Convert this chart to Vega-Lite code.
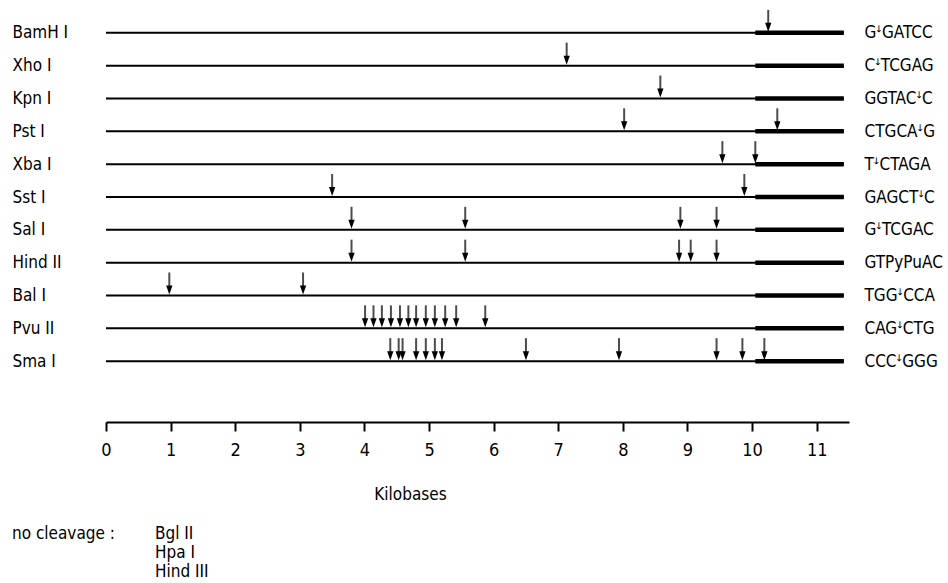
{
  "$schema": "https://vega.github.io/schema/vega-lite/v6.json",
  "width": 743,
  "height": 394,
  "autosize": {"type": "none"},
  "padding": {"left": 106, "top": 0, "right": 99, "bottom": 189},
  "background": "white",
  "config": {
    "view": {"stroke": null},
    "font": "DejaVu Sans Condensed, DejaVu Sans, sans-serif",
    "axis": {"labelColor": "black", "titleColor": "black", "domainColor": "black", "tickColor": "black", "grid": false}
  },
  "datasets": {
    "enzymes": [
      {"enzyme": "BamH I", "site": "GꜜGATCC", "start": 0, "end": 11.42, "heavy": 10.05},
      {"enzyme": "Xho I", "site": "CꜜTCGAG", "start": 0, "end": 11.42, "heavy": 10.05},
      {"enzyme": "Kpn I", "site": "GGTACꜜC", "start": 0, "end": 11.42, "heavy": 10.05},
      {"enzyme": "Pst I", "site": "CTGCAꜜG", "start": 0, "end": 11.42, "heavy": 10.05},
      {"enzyme": "Xba I", "site": "TꜜCTAGA", "start": 0, "end": 11.42, "heavy": 10.05},
      {"enzyme": "Sst I", "site": "GAGCTꜜC", "start": 0, "end": 11.42, "heavy": 10.05},
      {"enzyme": "Sal I", "site": "GꜜTCGAC", "start": 0, "end": 11.42, "heavy": 10.05},
      {"enzyme": "Hind II", "site": "GTPyPuAC", "start": 0, "end": 11.42, "heavy": 10.05},
      {"enzyme": "Bal I", "site": "TGGꜜCCA", "start": 0, "end": 11.42, "heavy": 10.05},
      {"enzyme": "Pvu II", "site": "CAGꜜCTG", "start": 0, "end": 11.42, "heavy": 10.05},
      {"enzyme": "Sma I", "site": "CCCꜜGGG", "start": 0, "end": 11.42, "heavy": 10.05}
    ],
    "cuts": [
      {"enzyme": "BamH I", "kb": 10.25},
      {"enzyme": "Xho I", "kb": 7.13},
      {"enzyme": "Kpn I", "kb": 8.58},
      {"enzyme": "Pst I", "kb": 8.02},
      {"enzyme": "Pst I", "kb": 10.39},
      {"enzyme": "Xba I", "kb": 9.54},
      {"enzyme": "Xba I", "kb": 10.05},
      {"enzyme": "Sst I", "kb": 3.5},
      {"enzyme": "Sst I", "kb": 9.88},
      {"enzyme": "Sal I", "kb": 3.8},
      {"enzyme": "Sal I", "kb": 5.56},
      {"enzyme": "Sal I", "kb": 8.89},
      {"enzyme": "Sal I", "kb": 9.45},
      {"enzyme": "Hind II", "kb": 3.8},
      {"enzyme": "Hind II", "kb": 5.56},
      {"enzyme": "Hind II", "kb": 8.87},
      {"enzyme": "Hind II", "kb": 9.05},
      {"enzyme": "Hind II", "kb": 9.45},
      {"enzyme": "Bal I", "kb": 0.98},
      {"enzyme": "Bal I", "kb": 3.05},
      {"enzyme": "Pvu II", "kb": 4.01},
      {"enzyme": "Pvu II", "kb": 4.14},
      {"enzyme": "Pvu II", "kb": 4.27},
      {"enzyme": "Pvu II", "kb": 4.41},
      {"enzyme": "Pvu II", "kb": 4.55},
      {"enzyme": "Pvu II", "kb": 4.68},
      {"enzyme": "Pvu II", "kb": 4.8},
      {"enzyme": "Pvu II", "kb": 4.95},
      {"enzyme": "Pvu II", "kb": 5.09},
      {"enzyme": "Pvu II", "kb": 5.25},
      {"enzyme": "Pvu II", "kb": 5.42},
      {"enzyme": "Pvu II", "kb": 5.87},
      {"enzyme": "Sma I", "kb": 4.4},
      {"enzyme": "Sma I", "kb": 4.53},
      {"enzyme": "Sma I", "kb": 4.59},
      {"enzyme": "Sma I", "kb": 4.8},
      {"enzyme": "Sma I", "kb": 4.95},
      {"enzyme": "Sma I", "kb": 5.09},
      {"enzyme": "Sma I", "kb": 5.2},
      {"enzyme": "Sma I", "kb": 6.5},
      {"enzyme": "Sma I", "kb": 7.94},
      {"enzyme": "Sma I", "kb": 9.45},
      {"enzyme": "Sma I", "kb": 9.85},
      {"enzyme": "Sma I", "kb": 10.19}
    ],
    "nocut": [
      {"text": "no cleavage :", "col": "head", "line": 1},
      {"text": "Bgl II", "col": "list", "line": 1},
      {"text": "Hpa I", "col": "list", "line": 2},
      {"text": "Hind III", "col": "list", "line": 3}
    ]
  },
  "layer": [
    {
      "data": {"name": "enzymes"},
      "mark": {"type": "rule", "strokeWidth": 2, "color": "black"},
      "encoding": {
        "x": {
          "field": "start", "type": "quantitative",
          "scale": {"domain": [0, 11.5], "nice": false, "zero": false},
          "axis": {
            "values": [0, 1, 2, 3, 4, 5, 6, 7, 8, 9, 10, 11],
            "title": "Kilobases", "offset": 28, "tickSize": 9, "tickWidth": 2, "domainWidth": 2,
            "labelFontSize": 18, "labelPadding": 10, "labelFlush": false,
            "titleFontSize": 17, "titleFontWeight": "normal", "titleX": 304, "titleY": 72, "titleBaseline": "middle"
          }
        },
        "x2": {"field": "end"},
        "y": {
          "field": "enzyme", "type": "nominal", "sort": null,
          "scale": {"type": "point", "padding": 1, "domain": ["BamH I", "Xho I", "Kpn I", "Pst I", "Xba I", "Sst I", "Sal I", "Hind II", "Bal I", "Pvu II", "Sma I"]},
          "axis": {"title": null, "orient": "left", "domain": false, "ticks": false, "labelAlign": "left", "labelPadding": 94, "labelFontSize": 17, "labelBaseline": "middle"}
        }
      }
    },
    {
      "data": {"name": "enzymes"},
      "mark": {"type": "rule", "strokeWidth": 4.5, "color": "black"},
      "encoding": {
        "x": {"field": "heavy", "type": "quantitative", "scale": {"domain": [0, 11.5], "nice": false, "zero": false}, "axis": null},
        "x2": {"field": "end"},
        "y": {
          "field": "site", "type": "nominal", "sort": null,
          "scale": {"type": "point", "padding": 1, "domain": ["GꜜGATCC", "CꜜTCGAG", "GGTACꜜC", "CTGCAꜜG", "TꜜCTAGA", "GAGCTꜜC", "GꜜTCGAC", "GTPyPuAC", "TGGꜜCCA", "CAGꜜCTG", "CCCꜜGGG"]},
          "axis": {"title": null, "orient": "right", "domain": false, "ticks": false, "labelAlign": "left", "labelPadding": 15, "labelFontSize": 17, "labelBaseline": "middle"}
        }
      }
    },
    {
      "data": {"name": "cuts"},
      "mark": {"type": "tick", "orient": "vertical", "size": 18, "thickness": 2, "color": "black", "yOffset": -14},
      "encoding": {
        "x": {"field": "kb", "type": "quantitative", "scale": {"domain": [0, 11.5], "nice": false, "zero": false}, "axis": null},
        "y": {
          "field": "enzyme", "type": "nominal", "sort": null,
          "scale": {"type": "point", "padding": 1, "domain": ["BamH I", "Xho I", "Kpn I", "Pst I", "Xba I", "Sst I", "Sal I", "Hind II", "Bal I", "Pvu II", "Sma I"]},
          "axis": null
        }
      }
    },
    {
      "data": {"name": "cuts"},
      "mark": {"type": "point", "shape": "M-0.35,-1L0.35,-1L0,0Z", "size": 324, "filled": true, "color": "black", "opacity": 1, "yOffset": -1},
      "encoding": {
        "x": {"field": "kb", "type": "quantitative", "scale": {"domain": [0, 11.5], "nice": false, "zero": false}, "axis": null},
        "y": {
          "field": "enzyme", "type": "nominal", "sort": null,
          "scale": {"type": "point", "padding": 1, "domain": ["BamH I", "Xho I", "Kpn I", "Pst I", "Xba I", "Sst I", "Sal I", "Hind II", "Bal I", "Pvu II", "Sma I"]},
          "axis": null
        }
      }
    },
    {
      "data": {"name": "nocut"},
      "mark": {"type": "text", "align": "left", "baseline": "middle", "fontSize": 17, "color": "black"},
      "encoding": {
        "x": {"field": "col", "type": "nominal", "scale": {"type": "point", "padding": 0, "domain": ["head", "list"], "range": [-94, 49]}, "axis": null},
        "y": {"field": "line", "type": "ordinal", "scale": {"type": "point", "padding": 0, "domain": [1, 2, 3], "range": [534, 572]}, "axis": null},
        "text": {"field": "text"}
      }
    }
  ],
  "resolve": {"scale": {"x": "independent", "y": "independent"}, "axis": {"x": "independent", "y": "independent"}}
}
